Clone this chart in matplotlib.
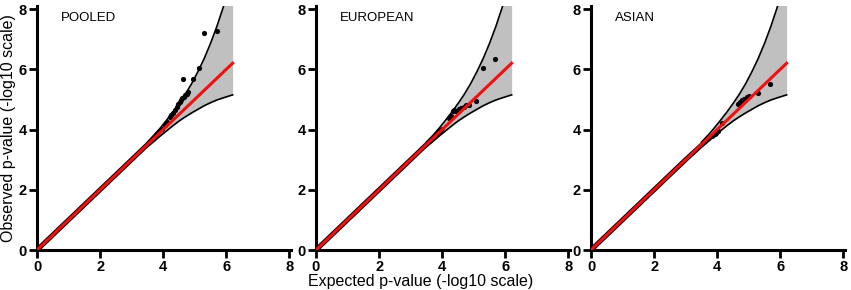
import numpy as np
import matplotlib.pyplot as plt

plt.rcParams['font.family'] = ['Liberation Sans', 'DejaVu Sans']

# confidence band (same in all panels)
band_x = [3.5, 3.7, 3.9, 4.1, 4.3, 4.5, 4.7, 4.9, 5.1, 5.3, 5.5, 5.7, 5.9, 6.05, 6.2]
band_upper = [3.58, 3.8, 4.04, 4.3, 4.57, 4.86, 5.17, 5.52, 5.92, 6.36, 6.86, 7.42, 8.05, 8.55, 9.1]
band_lower = [3.43, 3.6, 3.78, 3.95, 4.12, 4.28, 4.42, 4.55, 4.67, 4.79, 4.89, 4.98, 5.05, 5.1, 5.15]

# expected line end
exp_max = 6.2

panel_names = ['POOLED', 'EUROPEAN', 'ASIAN']

# bulk of the points, lying on the diagonal
bulk_x = [[0, 1, 2, 3, 3.6, 3.9],
          [0, 1, 2, 3, 3.6, 4.0],
          [0, 1, 2, 3, 3.5, 3.8]]
bulk_y = [[0, 1, 2, 3, 3.6, 3.95],
          [0, 1, 2, 3, 3.6, 4.0],
          [0, 1, 2, 3, 3.48, 3.75]]

# individual tail points
tail_x = [
    [3.95, 4.05, 4.12, 4.2, 4.25, 4.3, 4.36, 4.43, 4.48, 4.52, 4.56, 4.6, 4.65, 4.7, 4.75, 4.8,
     4.62, 4.94, 5.12, 5.3, 5.7],
    [4.22, 4.28, 4.33, 4.38, 4.45, 4.52, 4.6, 4.68, 4.76, 4.85, 5.08, 5.3, 5.68],
    [3.82, 3.87, 3.92, 3.97, 4.02, 4.14, 4.66, 4.72, 4.77, 4.85, 4.93, 5.0, 5.3, 5.66],
]
tail_y = [
    [4.02, 4.15, 4.25, 4.4, 4.48, 4.55, 4.65, 4.76, 4.85, 4.92, 4.98, 5.04, 5.08, 5.13, 5.18, 5.25,
     5.67, 5.67, 6.03, 7.2, 7.27],
    [4.38, 4.45, 4.6, 4.65, 4.62, 4.68, 4.72, 4.76, 4.8, 4.82, 4.96, 6.03, 6.34],
    [3.78, 3.82, 3.86, 3.9, 3.95, 4.21, 4.85, 4.9, 4.98, 5.0, 5.09, 5.1, 5.22, 5.5],
]

fig = plt.figure(figsize=(8.51, 2.90), dpi=100)
lefts = [37 / 851, 316 / 851, 591 / 851]
for i, name in enumerate(panel_names):
    ax = fig.add_axes([lefts[i], 40 / 290, 254 / 851, 244 / 290])
    ax.fill_between(band_x, band_lower, band_upper, color='#c0c0c0', lw=0, zorder=1)
    ax.plot(band_x, band_upper, color='k', lw=1.2, zorder=2)
    ax.plot(band_x, band_lower, color='k', lw=1.2, zorder=2)
    ax.plot(bulk_x[i], bulk_y[i], color='k', lw=3.5, solid_capstyle='round', zorder=3)
    ax.scatter(tail_x[i], tail_y[i], s=14, color='k', zorder=4, linewidths=0)
    ax.plot([0, exp_max], [0, exp_max], color='#f01010', lw=2.2, zorder=5)
    ax.text(0.75, 7.7, name, fontsize=9.5, va='center', ha='left')

    ax.set_xlim(0, 8.05)
    ax.set_ylim(0, 8.1)
    ax.set_xticks([0, 2, 4, 6, 8])
    ax.set_yticks([0, 2, 4, 6, 8])
    for s in ['top', 'right']:
        ax.spines[s].set_visible(False)
    for s in ['left', 'bottom']:
        ax.spines[s].set_linewidth(2.2)
    ax.tick_params(direction='out', length=6, width=2, pad=1.5, labelsize=10.5)
    for lab in ax.get_xticklabels() + ax.get_yticklabels():
        lab.set_fontweight('bold')

fig.text(421 / 851, 0.028, 'Expected p-value (-log10 scale)', ha='center', va='center', fontsize=11.5)
fig.text(9 / 851, 0.56, 'Observed p-value (-log10 scale)', ha='center', va='center',
         rotation=90, fontsize=11.5)

fig.savefig('out.png', dpi=100)
